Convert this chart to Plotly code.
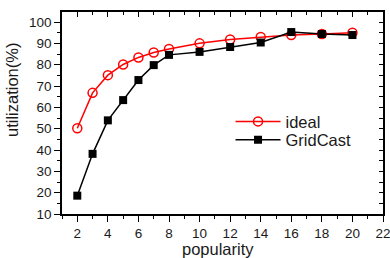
import plotly.graph_objects as go

popularity = [2, 3, 4, 5, 6, 7, 8, 10, 12, 14, 16, 18, 20]
ideal = [50.2, 66.8, 75.1, 80.1, 83.4, 85.7, 87.4, 90.0, 91.8, 93.0, 93.9, 94.4, 95.0]
gridcast = [18.6, 38.2, 53.9, 63.4, 72.8, 79.8, 84.6, 86.0, 88.3, 90.4, 95.3, 94.4, 93.9]
x_ticks = [2, 4, 6, 8, 10, 12, 14, 16, 18, 20, 22]
y_ticks = [10, 20, 30, 40, 50, 60, 70, 80, 90, 100]

FONT = "Liberation Sans, Arial, sans-serif"
TXT = "#1a1a1a"

fig = go.Figure()
fig.add_trace(go.Scatter(
    x=popularity, y=ideal, name="ideal", mode="lines+markers", legend="legend",
    line=dict(color="#ff0000", width=1.5),
    marker=dict(symbol="circle-open", size=9, color="#ff0000", line=dict(width=1.5)),
))
fig.add_trace(go.Scatter(
    x=popularity, y=gridcast, name="GridCast", mode="lines+markers", legend="legend2",
    line=dict(color="#000000", width=1.5),
    marker=dict(symbol="square", size=8, color="#000000"),
))
fig.add_trace(go.Scatter(x=[None], y=[None], xaxis="x2", yaxis="y2", showlegend=False, hoverinfo="skip"))

axis_common = dict(showgrid=False, zeroline=False, linecolor="black", linewidth=1.5,
                   tickcolor="black", tickwidth=1.2, automargin=False, ticklabeloverflow="allow",
                   tickfont=dict(family=FONT, size=13.5, color=TXT))

XR = [1, 22.0001]
YR = [10, 104.7]

leg_common = dict(xanchor="left", yanchor="middle", bgcolor="rgba(0,0,0,0)",
                  font=dict(family=FONT, size=16.5, color=TXT), itemwidth=45)

fig.update_layout(
    width=390, height=258,
    margin=dict(l=62, r=7, t=12, b=44),
    paper_bgcolor="white", plot_bgcolor="white",
    font=dict(family=FONT, color=TXT),
    xaxis=dict(range=XR, tickvals=x_ticks, ticks="outside", ticklen=6,
               minor=dict(dtick=1, tick0=0, ticks="outside", ticklen=3, tickcolor="black"),
               **axis_common),
    yaxis=dict(range=YR, tickvals=y_ticks, ticks="outside", ticklen=6,
               minor=dict(dtick=5, tick0=0, ticks="outside", ticklen=3, tickcolor="black"),
               **axis_common),
    xaxis2=dict(range=XR, overlaying="x", side="top", tickvals=x_ticks, ticks="inside", ticklen=5,
                showticklabels=False,
                minor=dict(dtick=1, tick0=0, ticks="inside", ticklen=3, tickcolor="black"),
                **axis_common),
    yaxis2=dict(range=YR, overlaying="y", side="right", tickvals=y_ticks, ticks="inside", ticklen=4,
                showticklabels=False,
                minor=dict(dtick=5, tick0=0, ticks="inside", ticklen=4, tickcolor="black"),
                **axis_common),
    legend=dict(x=0.525, y=0.457, **leg_common),
    legend2=dict(x=0.525, y=0.366, **leg_common),
    showlegend=True,
    annotations=[
        dict(text="popularity", xref="paper", yref="paper", x=(218 - 62) / 321, y=-(249 - 214) / 202,
             xanchor="center", yanchor="middle", showarrow=False,
             font=dict(family=FONT, size=16.5, color=TXT)),
        dict(text="utilization(%)", xref="paper", yref="paper", x=-(62 - 12) / 321, y=1 - (90 - 12) / 202,
             xanchor="center", yanchor="middle", textangle=-90, showarrow=False,
             font=dict(family=FONT, size=16.5, color=TXT)),
    ],
)

fig.write_html("out.html", config={"displayModeBar": False},
               post_script="document.body.style.margin='0';document.body.style.overflow='hidden';")
